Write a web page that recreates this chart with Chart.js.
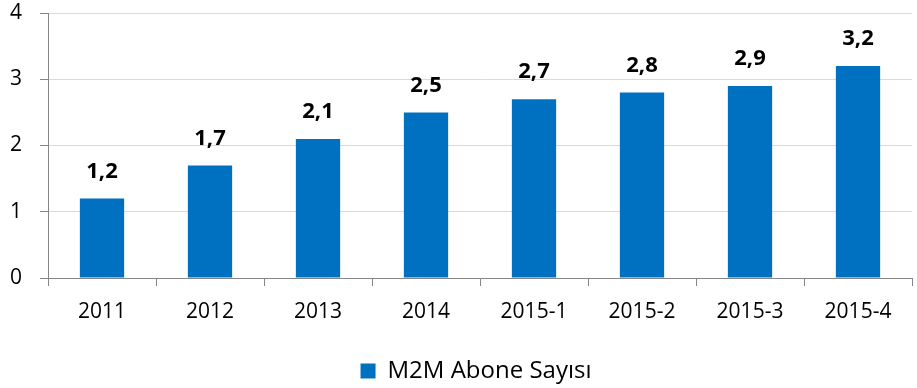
<!DOCTYPE html>
<html>
<head>
<meta charset="utf-8">
<script src="https://cdn.jsdelivr.net/npm/chart.js@4"></script>
<style>
  html, body { margin: 0; padding: 0; background: #fff; }
  #wrap { width: 917px; height: 388px; }
</style>
</head>
<body>
<div id="wrap"><canvas id="chart" width="917" height="388"></canvas></div>
<script>
const categories = ['2011', '2012', '2013', '2014', '2015-1', '2015-2', '2015-3', '2015-4'];
const subscribers = [1.2, 1.7, 2.1, 2.5, 2.7, 2.8, 2.9, 3.2];
const yTicks = [0, 1, 2, 3, 4];
const seriesName = 'M2M Abone Sayısı';

const FONT = '"Open Sans", "DejaVu Sans", sans-serif';

// value labels above each bar, decimal comma
const barValues = {
    id: 'barValues',
    afterDatasetsDraw(chart) {
        const ctx = chart.ctx;
        const meta = chart.getDatasetMeta(0);
        ctx.save();
        ctx.font = 'bold 22px ' + FONT;
        ctx.fillStyle = '#000';
        ctx.textAlign = 'center';
        ctx.textBaseline = 'middle';
        meta.data.forEach((bar, i) => {
            const txt = subscribers[i].toFixed(1).replace('.', ',');
            ctx.fillText(txt, bar.x, bar.y - 27);
        });
        ctx.restore();
    }
};

// nudge the legend a bit right and down
const legendNudge = {
    id: 'legendNudge',
    afterLayout(chart) {
        const lg = chart.legend;
        if (!lg) return;
        lg.left += 20;
        lg.right += 20;
        lg.top += 5;
        lg.bottom += 5;
    }
};

new Chart(document.getElementById('chart'), {
    type: 'bar',
    data: {
        labels: categories,
        datasets: [{
            label: seriesName,
            data: subscribers,
            backgroundColor: '#0070C0',
            borderWidth: 0,
            categoryPercentage: 1,
            barPercentage: 0.41
        }]
    },
    options: {
        responsive: false,
        animation: false,
        layout: { padding: { top: 13, right: 5, left: 0, bottom: 0 } },
        scales: {
            y: {
                min: 0,
                max: 4,
                afterBuildTicks: (scale) => { scale.ticks = yTicks.map(v => ({ value: v })); },
                afterFit: (scale) => {
                    scale.width = 48;
                    scale.paddingTop = 0;
                    scale.paddingBottom = 0;
                },
                border: { color: '#868686', width: 1 },
                grid: { color: '#D9D9D9', tickColor: '#868686', tickLength: 8, lineWidth: 1 },
                ticks: { color: '#000', font: { family: FONT, size: 21 }, padding: 18 }
            },
            x: {
                afterFit: (scale) => { scale.height = 72; },
                border: { color: '#868686', width: 1 },
                grid: { offset: true, drawOnChartArea: false, tickColor: '#868686', tickLength: 8 },
                ticks: { color: '#000', font: { family: FONT, size: 21 }, padding: 13, maxRotation: 0 }
            }
        },
        plugins: {
            legend: {
                position: 'bottom',
                labels: {
                    color: '#000',
                    font: { family: FONT, size: 24 },
                    boxWidth: 15,
                    boxHeight: 15,
                    padding: 4
                }
            },
            tooltip: { enabled: false }
        }
    },
    plugins: [barValues, legendNudge]
});
</script>
</body>
</html>
